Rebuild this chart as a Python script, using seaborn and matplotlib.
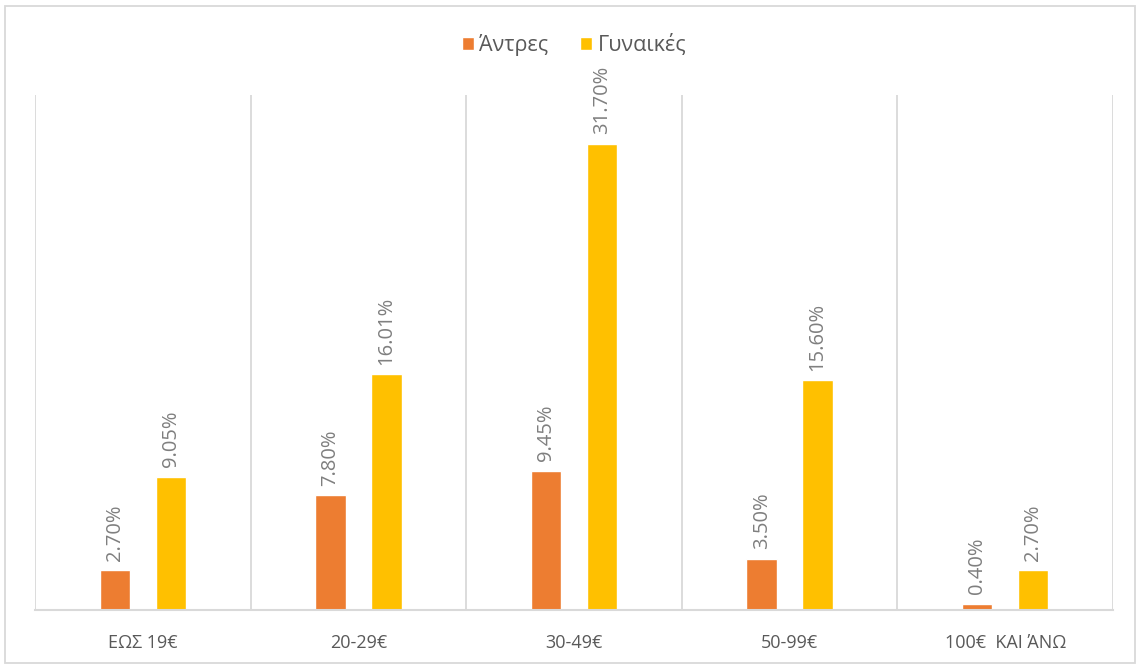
import matplotlib
matplotlib.use("Agg")
import matplotlib.pyplot as plt
from matplotlib.patches import Rectangle
import seaborn as sns
import pandas as pd

categories = ["ΕΩΣ 19€", "20-29€", "30-49€", "50-99€", "100€  ΚΑΙ ΆΝΩ"]
series_names = ["Άντρες", "Γυναικές"]
men = [2.70, 7.80, 9.45, 3.50, 0.40]
women = [9.05, 16.01, 31.70, 15.60, 2.70]
colors = ["#ED7D31", "#FFC000"]

df = pd.DataFrame({
    "category": categories * 2,
    "group": [series_names[0]] * len(categories) + [series_names[1]] * len(categories),
    "value": men + women,
})

sns.set_theme(style="white")
plt.rcParams["font.family"] = ["Open Sans", "DejaVu Sans"]

fig = plt.figure(figsize=(11.37, 6.64), dpi=100)
ax = fig.add_axes([35 / 1137, 54 / 664, 1078 / 1137, 515 / 664])

sns.barplot(data=df, x="category", y="value", hue="group", order=categories,
            hue_order=series_names, palette=colors, width=0.52, gap=0.46,
            saturation=1, ax=ax, legend=True)

ax.set_ylim(0, 35)
ax.set_xlim(-0.5, len(categories) - 0.5)
ax.set_xlabel("")
ax.set_ylabel("")
ax.set_yticks([])

# vertical separators between categories
for x in [i - 0.5 for i in range(len(categories) + 1)]:
    ax.axvline(x, color="#d9d9d9", lw=1.3, zorder=0)

for s in ["top", "right", "left"]:
    ax.spines[s].set_visible(False)
ax.spines["bottom"].set_color("#d9d9d9")
ax.spines["bottom"].set_linewidth(1.5)

ax.tick_params(axis="x", length=0, pad=17, labelsize=13, labelcolor="#595959")

for cont in ax.containers:
    for bar, val in zip(cont, cont.datavalues):
        ax.annotate(f"{val:.2f}%",
                    (bar.get_x() + bar.get_width() / 2, bar.get_height()),
                    xytext=(0, 7), textcoords="offset points",
                    rotation=90, ha="center", va="bottom",
                    fontsize=14.5, color="#7f7f7f")

leg = ax.legend(loc="center", bbox_to_anchor=(0.5, 1.0 + 50 / 515), ncol=2,
                frameon=False, fontsize=15.5, handlelength=0.55, handleheight=0.55,
                handletextpad=0.25, columnspacing=1.5)
for t in leg.get_texts():
    t.set_color("#595959")

# chart area border
fig.patches.append(Rectangle((5 / 1137, 1 / 664), 1130 / 1137, 657 / 664,
                             transform=fig.transFigure, fill=False,
                             edgecolor="#d9d9d9", lw=1.3))

fig.savefig("out.png", dpi=100, facecolor="white")
